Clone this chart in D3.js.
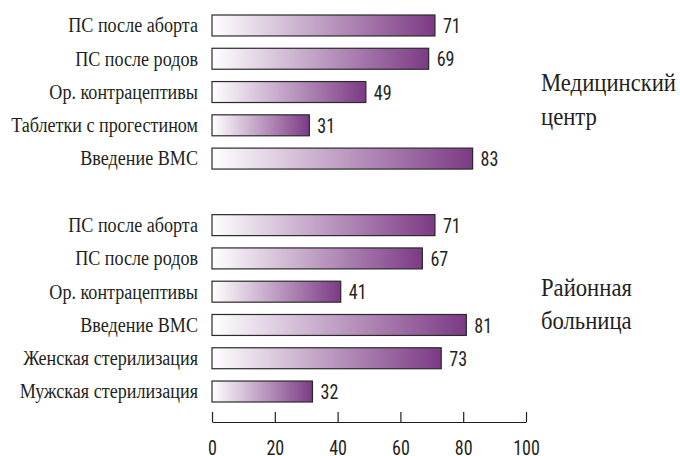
<!DOCTYPE html>
<html><head><meta charset="utf-8">
<script src="https://cdn.jsdelivr.net/npm/d3@7"></script>
<style>html,body{margin:0;padding:0;background:#fff;}</style>
</head><body>
<script>
const groupLines = [["Медицинский", "центр"], ["Районная", "больница"]];
const categories1 = ["ПС после аборта", "ПС после родов", "Ор. контрацептивы", "Таблетки с прогестином", "Введение ВМС"];
const values1 = [71, 69, 49, 31, 83];
const categories2 = ["ПС после аборта", "ПС после родов", "Ор. контрацептивы", "Введение ВМС", "Женская стерилизация", "Мужская стерилизация"];
const values2 = [71, 67, 41, 81, 73, 32];
const tickValues = [0, 20, 40, 60, 80, 100];

const SERIF = '"Liberation Serif", "Times New Roman", serif';
const SANS = '"Roboto Condensed", "Liberation Sans", sans-serif';
const INK = "#231f20";

const W = 680, H = 456;
const svg = d3.select("body").append("svg").attr("width", W).attr("height", H);

const rows = [];
categories1.forEach((c, i) => rows.push({key: "a" + i, cat: c, v: values1[i]}));
categories2.forEach((c, i) => rows.push({key: "b" + i, cat: c, v: values2[i]}));
const keys = rows.slice(0, 5).map(d => d.key).concat(["gap"], rows.slice(5).map(d => d.key));

const x = d3.scaleLinear().domain([0, 100]).range([212, 526]);
const y = d3.scaleBand().domain(keys).range([15, 402]).paddingInner(0.37).paddingOuter(0);

const defs = svg.append("defs");
const grad = defs.append("linearGradient").attr("id", "g").attr("x1", "0").attr("x2", "1").attr("y1", "0").attr("y2", "0");
grad.append("stop").attr("offset", "0%").attr("stop-color", "#ffffff");
grad.append("stop").attr("offset", "100%").attr("stop-color", "#7c3a85");

svg.selectAll("rect.bar").data(rows).join("rect")
  .attr("class", "bar")
  .attr("x", x(0)).attr("y", d => y(d.key))
  .attr("width", d => x(d.v) - x(0)).attr("height", y.bandwidth())
  .attr("fill", "url(#g)").attr("stroke", "#2a2a2a").attr("stroke-width", 1.2);

function squeeze(font, size, sample, target) {
  const t = svg.append("text").style("font-family", font).style("font-size", size + "px").text(sample);
  const w = t.node().getComputedTextLength();
  t.remove();
  return Math.min(1, target / w);
}
const catSize = 20;
const catF = squeeze(SERIF, catSize, "Таблетки с прогестином", 187);

svg.selectAll("text.cat").data(rows).join("text")
  .attr("class", "cat")
  .attr("transform", d => `translate(198,${y(d.key) + y.bandwidth() / 2}) scale(${catF},1)`)
  .attr("dy", "0.34em").attr("text-anchor", "end")
  .style("font-family", SERIF)
  .style("font-size", catSize + "px").attr("fill", INK)
  .text(d => d.cat);

const numSize = 21;
const numF = 0.86;
svg.selectAll("text.val").data(rows).join("text")
  .attr("class", "val")
  .attr("transform", d => `translate(${x(d.v) + 8},${y(d.key) + y.bandwidth() / 2}) scale(${numF},1)`)
  .attr("dy", "0.36em")
  .style("font-family", SANS)
  .style("font-size", numSize + "px").attr("fill", INK)
  .text(d => d.v);

const axis = d3.axisBottom(x).tickValues(tickValues).tickSizeInner(-10).tickSizeOuter(0).tickPadding(0);
const ax = svg.append("g").attr("transform", "translate(0,422)").call(axis);
ax.attr("font-family", null).attr("font-size", null);
ax.select(".domain").attr("stroke", INK).attr("stroke-width", 1.2);
ax.selectAll(".tick line").attr("stroke", INK).attr("stroke-width", 1.2);
ax.selectAll(".tick text")
  .attr("y", 33).attr("dy", null)
  .attr("transform", `scale(${numF},1)`)
  .style("font-family", SANS)
  .style("font-size", numSize + "px").attr("fill", INK);

const grpSize = 25;
const grpF = squeeze(SERIF, grpSize, "Медицинский", 135);
const gBase = [[90.5, 125], [295.5, 328.5]];
groupLines.forEach((lines, gi) => {
  svg.selectAll(null).data(lines).join("text")
    .attr("transform", (d, i) => `translate(541,${gBase[gi][i]}) scale(${grpF},1)`)
    .style("font-family", SERIF)
    .style("font-size", grpSize + "px").attr("fill", INK)
    .text(d => d);
});
</script>
</body></html>
